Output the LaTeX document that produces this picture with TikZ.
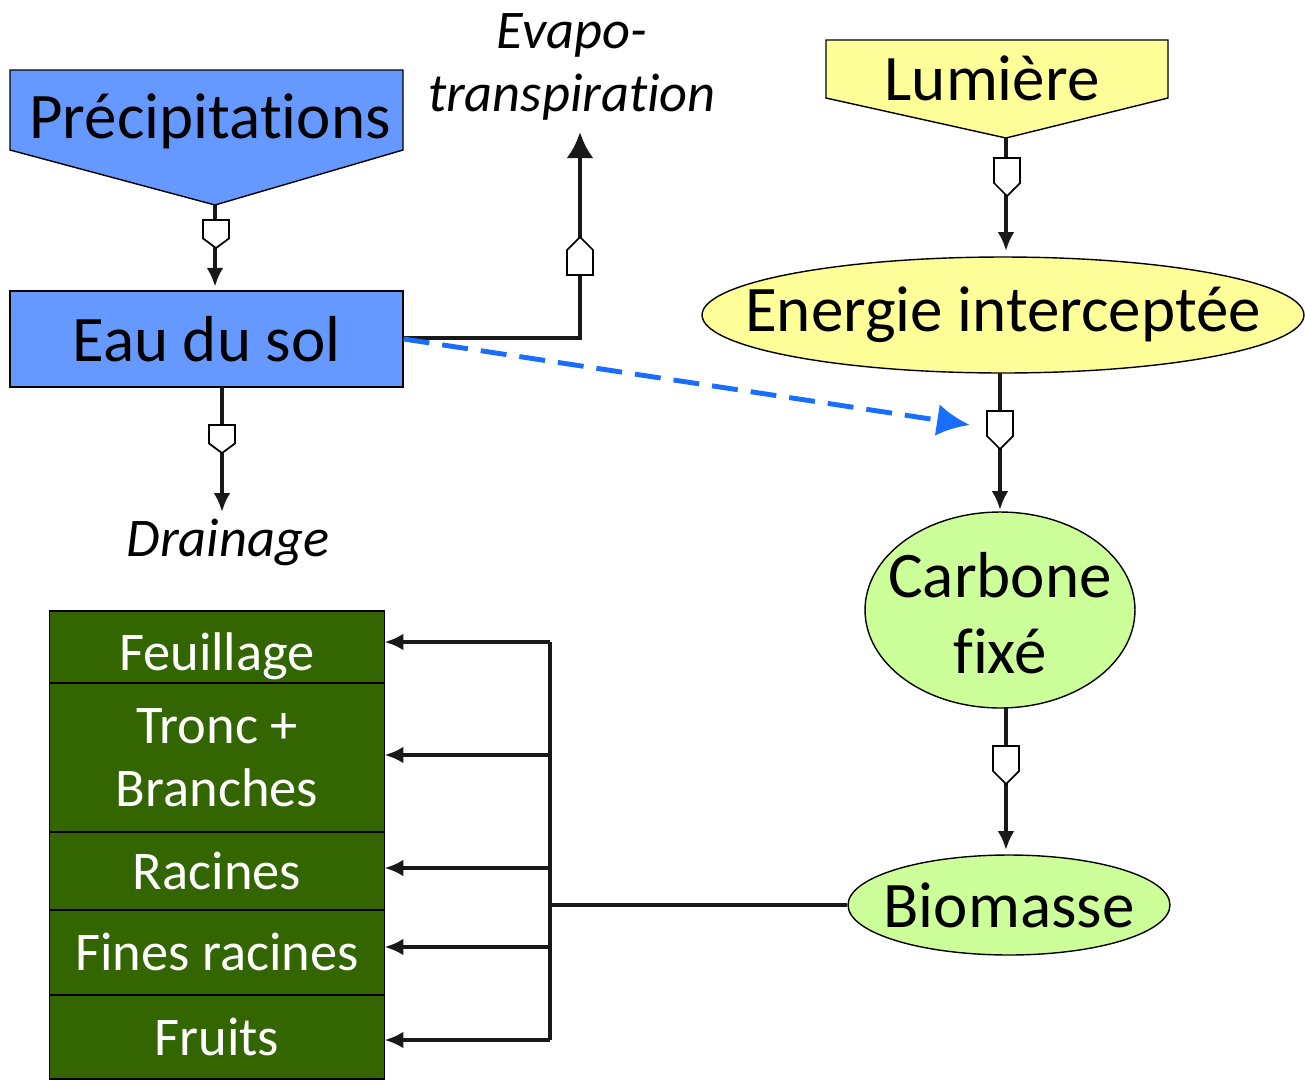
\documentclass[tikz,border=0pt]{standalone}
\usepackage{fontspec}
\setmainfont{Carlito}[Ligatures=NoCommon]
\usetikzlibrary{arrows.meta,shapes.geometric,positioning,calc}
\definecolor{eaublue}{HTML}{6699FF}
\definecolor{sunyellow}{HTML}{FFFF99}
\definecolor{leafgreen}{HTML}{CCFF99}
\definecolor{treegreen}{HTML}{336600}
\definecolor{dashblue}{HTML}{1A6EFF}
\newcommand{\nowidth}[1]{\makebox[0pt]{#1}}
\tikzset{
big/.style = {font=\fontsize{37}{43}\selectfont},
small/.style = {font=\fontsize{31}{36}\selectfont},
source/.style = {draw, line width=0.8pt},
stock/.style = {draw, fill=eaublue, rectangle, line width=0.8pt, inner sep=0pt},
state/.style = {draw, ellipse, line width=0.8pt, inner sep=0pt},
organ/.style = {draw, fill=treegreen, text=white, rectangle, line width=0.8pt,
  minimum width=6.7cm, inner sep=0pt, outer sep=0pt, align=center, small},
flux/.style = {->, line width=2.7pt, draw=black!90},
link/.style = {line width=2pt, draw=black!90},
valve/.pic = {\draw[fill=white, line width=1pt] (-13,-19) -- (13,-19) -- (13,6) -- (0,19) -- (-13,6) -- cycle;}
}
\begin{document}
\begin{tikzpicture}[x=0.02cm, y=-0.02cm, >={Latex[length=0.38cm,width=0.34cm]}]
  \useasboundingbox (0,0) rectangle (1305,1079);

  % water side
  \draw [source, fill=eaublue] (10,70) -- (403,70) -- (403,150) -- (215,205) -- (10,150) -- cycle;
  \coordinate (ptip) at (215,205);
  \node [big]                                           (precip)  at (210,121) {Précipitations};
  \node [stock, big, minimum width=7.86cm, minimum height=1.92cm] (eau) at (206.5,339) {Eau du sol};
  \node [small, font=\fontsize{31}{36}\selectfont\itshape, align=center] (evapo) at (572,67) {Evapo-\\transpiration};
  \node [small, font=\fontsize{31}{36}\selectfont\itshape]  (drain)   at (228,542) {Drainage};
  \coordinate (corner) at (580,338);
  \coordinate (evtop)  at (580,132);
  \coordinate (drtop)  at (222,387);
  \coordinate (drbot)  at (222,512);

  % light side
  \draw [source, fill=sunyellow] (826,40) -- (1168,40) -- (1168,98) -- (1006,138) -- (826,98) -- cycle;
  \coordinate (ltip) at (1006,138);
  \node [big]                                           (lumiere) at (992,78) {Lumière};
  \node [state, fill=sunyellow, big, minimum width=12.04cm, minimum height=2.32cm] (energie) at (1003,315) {\nowidth{Energie interceptée}};
  \node [state, fill=leafgreen, big, minimum width=5.4cm, minimum height=3.92cm] (carbone) at (1000,610)
        {\nowidth{\smash{\raisebox{-12pt}{\begin{tabular}{@{}c@{}}Carbone\\fixé\end{tabular}}}}};
  \node [state, fill=leafgreen, big, minimum width=6.44cm, minimum height=2cm] (biomasse) at (1009,905) {\nowidth{Biomasse}};
  \coordinate (ctop) at (1000,373);
  \coordinate (cbot) at (1000,510);
  \coordinate (btop) at (1006,708);
  \coordinate (bbot) at (1006,850);

  % allocation
  \node [organ, minimum height=1.44cm, text height=27pt, text depth=0pt] (feuil) at (217,647) {Feuillage};
  \node [organ, minimum height=2.98cm, below=0pt of feuil] (tronc)   {Tronc +\\Branches};
  \node [organ, minimum height=1.56cm, below=0pt of tronc] (racines) {Racines};
  \node [organ, minimum height=1.7cm,  below=0pt of racines] (fines) {Fines racines};
  \node [organ, minimum height=1.68cm, below=0pt of fines]   (fruits) {Fruits};
  \coordinate (bus)    at (550,905);
  \coordinate (bustop) at (550,642);
  \coordinate (busbot) at (550,1040);

  % flows
  \draw [flux, shorten >=2pt] (ptip) -- (eau.north -| ptip);
  \draw [flux, -{Latex[length=0.52cm,width=0.54cm]}] (eau.east |- corner) -- (corner) -- (evtop);
  \draw [flux] (drtop) -- (drbot);
  \draw [flux, shorten >=3pt] (ltip) -- (energie.north -| ltip);
  \draw [flux] (ctop) -- (cbot);
  \draw [flux] (btop) -- (bbot);
  \draw [dashblue, line width=2.8pt, dash pattern=on 0.52cm off 0.26cm,
         -{Latex[length=0.66cm,width=0.64cm]}] (eau.east) -- (970,425);

  % valves
  \pic [yscale=0.74]         at (216,234)  {valve};
  \pic [rotate=180]          at (580,256)  {valve};
  \pic [yscale=0.74]         at (222,439)  {valve};
  \pic                       at (1007,177) {valve};
  \pic                       at (1000,430) {valve};
  \pic                       at (1006,765) {valve};

  % biomass partition
  \draw [link] (biomasse.west) -- (bus);
  \draw [flux, -] (bustop) -- (busbot);
  \foreach \org/\y in {feuil/642, tronc/755, racines/868, fines/947, fruits/1040}
    \draw [flux] (550,\y) -- (\org.east |- 550,\y);
\end{tikzpicture}
\end{document}
